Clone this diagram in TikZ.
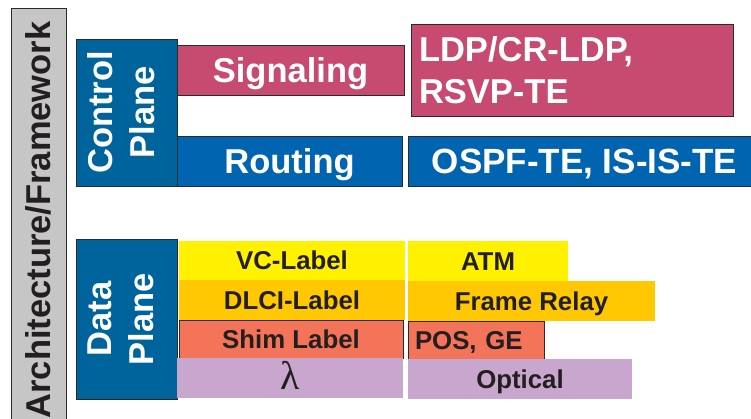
\documentclass[tikz,border=0pt]{standalone}
\usepackage{fontspec}
\setmainfont{Liberation Sans}
\newfontfamily\greekserif{Liberation Serif}

\definecolor{planeblue}{HTML}{00649C}
\definecolor{signalpink}{HTML}{C74B70}
\definecolor{routeblue}{HTML}{0064B1}
\definecolor{vcyellow}{HTML}{FFF100}
\definecolor{frgold}{HTML}{FFC800}
\definecolor{shimred}{HTML}{F37458}
\definecolor{optlilac}{HTML}{C9A6CE}
\definecolor{bargray}{HTML}{C6C6C6}
\definecolor{edge}{HTML}{2A2A2A}
\definecolor{ink}{HTML}{231F20}

\newcommand\bigtext{\fontsize{34.5}{42}\selectfont\bfseries}
\newcommand\rowtext{\fontsize{25.8}{30}\selectfont\bfseries}

\tikzset{
  cell/.style={inner sep=0pt, outer sep=0pt, anchor=north west},
  framed/.style={cell, draw=edge, line width=0.9pt},
  planebox/.style={draw=edge, line width=0.9pt, fill=planeblue, text=white,
    inner sep=0pt, rotate=90, align=center, font=\bigtext, text depth=12pt},
  ctrlbox/.style={framed, text=white, font=\bigtext},
  oneline/.style={text height=24.7pt, text depth=0pt},
  rowbox/.style={cell, text=ink, font=\rowtext, text height=18.5pt, text depth=0pt},
}

\begin{document}
\begin{tikzpicture}[x=1pt, y=-1pt]
\useasboundingbox (0,0) rectangle (751,419);

% side bar
\node[draw=edge, line width=0.9pt, fill=bargray, rotate=90, inner sep=0pt,
      minimum width=413pt, minimum height=55pt, text=ink, font=\bigtext,
      text height=24.7pt, text depth=0pt]
  (arch) at (38.5,214.5) {\hspace*{-11pt}Architecture/Framework};

% plane labels
\node[planebox, minimum width=147pt, minimum height=101pt]
  (cp) at (126.5,112.5) {Control\\Plane};
\node[planebox, minimum width=160pt, minimum height=101pt]
  (dp) at (126.5,319) {Data\\Plane};

% control plane
\node[ctrlbox, oneline, fill=signalpink, minimum width=227pt, minimum height=50pt]
  (sig) at (177,45) {Signaling};
\node[ctrlbox, fill=signalpink, minimum width=322pt, minimum height=92pt,
      text width=306pt, align=left, inner xsep=8pt]
  (ldp) at (411,24) {LDP/CR-LDP,\\RSVP-TE};
\node[ctrlbox, oneline, fill=routeblue, minimum width=225pt, minimum height=50pt]
  (rt) at (177,136) {Routing};
\node[ctrlbox, oneline, fill=routeblue, minimum width=345pt, minimum height=50pt,
      font=\fontsize{35}{42}\selectfont\bfseries]
  (ospf) at (408,136) {\hspace*{8pt}OSPF-TE, IS-IS-TE};

% data plane, left column
\node[rowbox, fill=vcyellow, minimum width=226pt, minimum height=39pt]
  (vc) at (179,241) {VC-Label};
\node[rowbox, fill=frgold, minimum width=226pt, minimum height=40pt]
  (dlci) at (179,280) {DLCI-Label};
\node[rowbox, fill=shimred, draw=edge, line width=0.8pt,
      minimum width=224pt, minimum height=38pt]
  (shim) at (179,320) {Shim Label};
\node[rowbox, fill=optlilac, minimum width=226pt, minimum height=40pt,
      font=\greekserif\fontsize{40}{40}\selectfont, text height=22pt, text depth=-2pt]
  (lam) at (177,358) {λ};

% data plane, right column
\node[rowbox, fill=vcyellow, minimum width=160pt, minimum height=40pt]
  (atm) at (408,241) {ATM};
\node[rowbox, fill=frgold, minimum width=247pt, minimum height=40pt]
  (fr) at (408,281) {Frame Relay};
\node[rowbox, fill=shimred, draw=edge, line width=0.8pt,
      minimum width=136pt, minimum height=38pt,
      text width=122pt, align=left, inner xsep=7pt]
  (pos) at (408,321) {POS, GE};
\node[rowbox, fill=optlilac, minimum width=224pt, minimum height=40pt]
  (opt) at (408,359) {Optical};
\end{tikzpicture}
\end{document}
